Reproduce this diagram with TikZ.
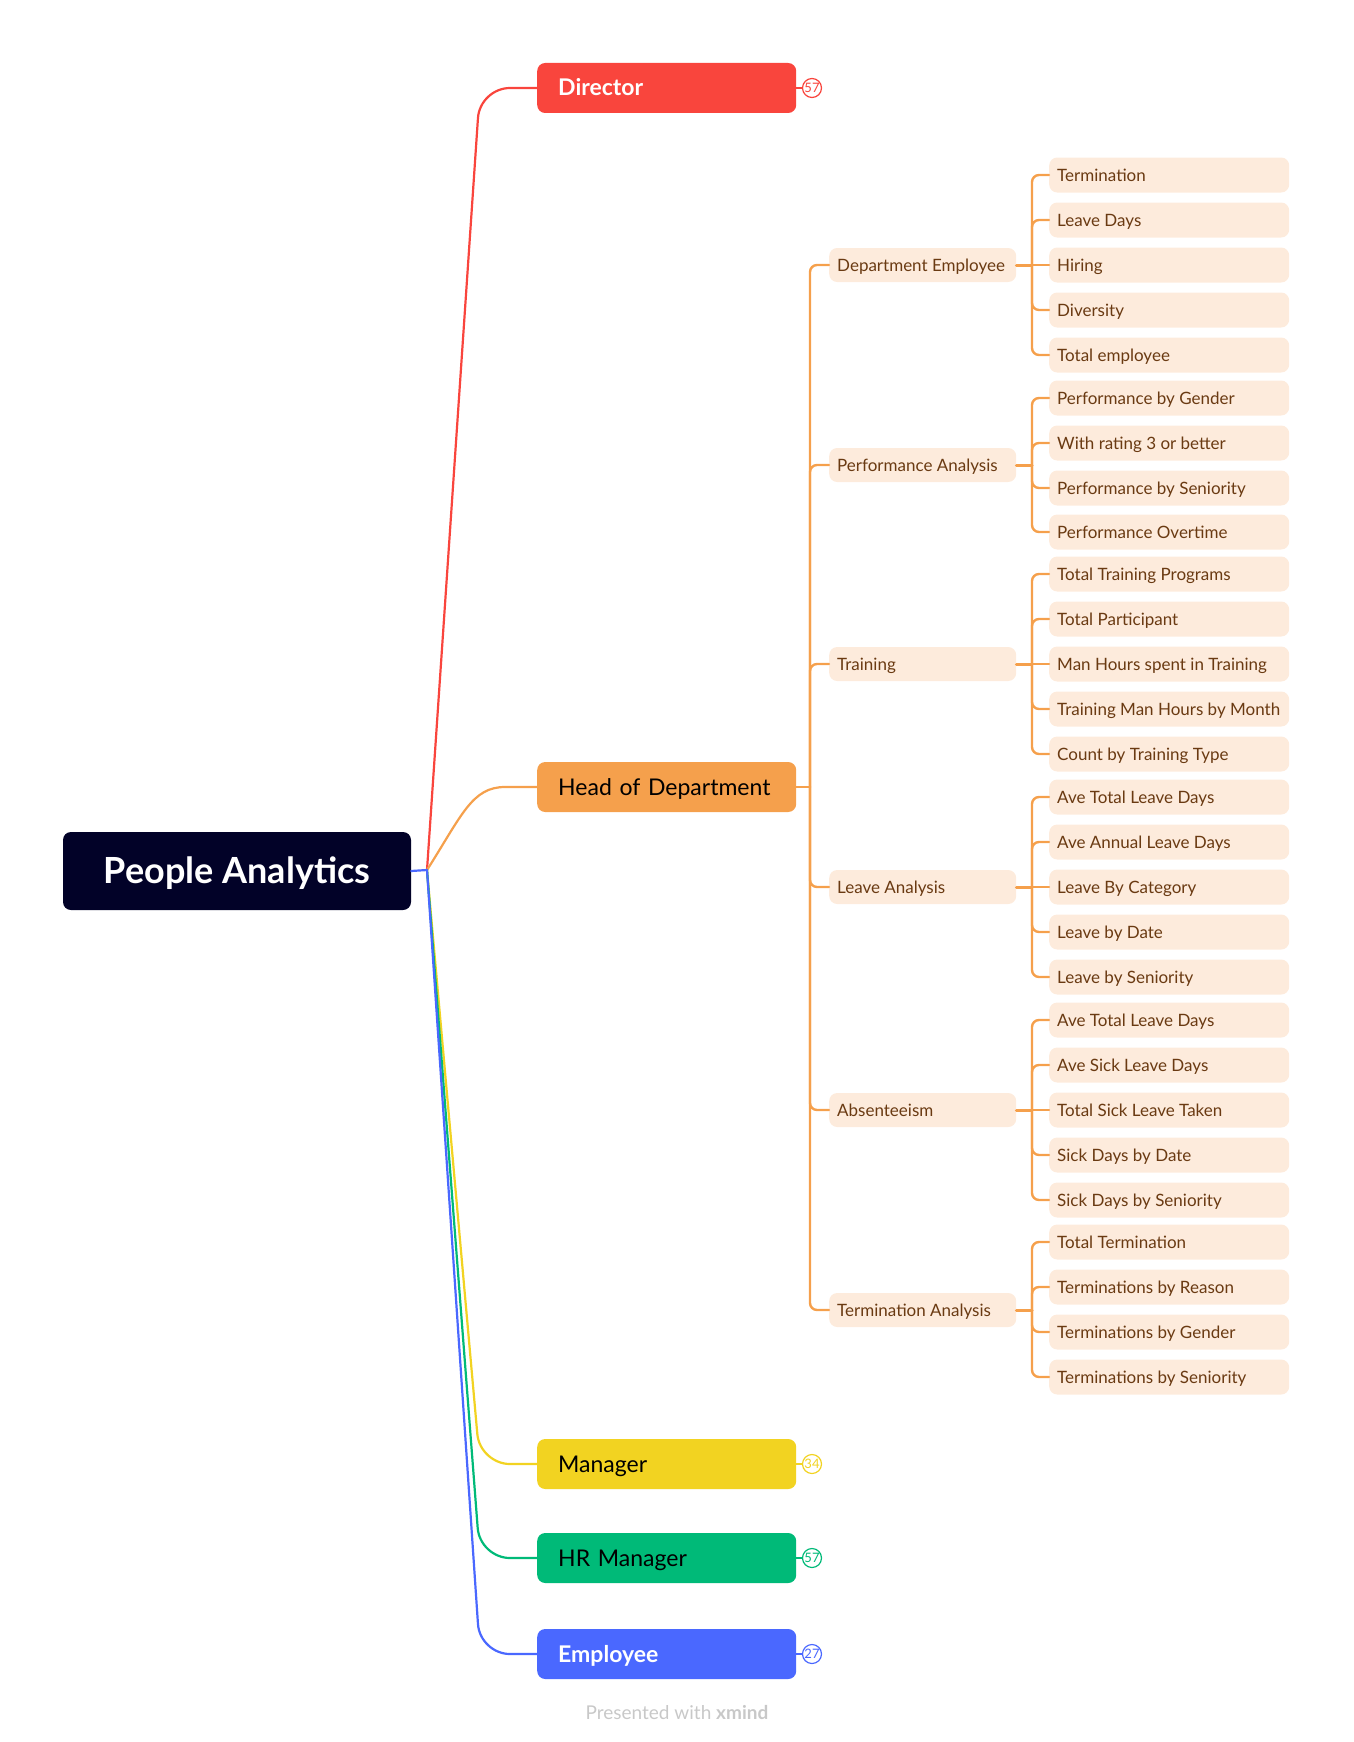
\documentclass[tikz,border=0pt]{standalone}
\usepackage{fontspec}
\setmainfont{Lato}
\definecolor{rootfill}{HTML}{020228}
\definecolor{cred}{HTML}{F9453D}
\definecolor{corange}{HTML}{F5A04C}
\definecolor{cyellow}{HTML}{F2D321}
\definecolor{cgreen}{HTML}{00BA78}
\definecolor{cblue}{HTML}{4A68FF}
\definecolor{leaffill}{HTML}{FDEBDC}
\definecolor{leaftext}{HTML}{6A3A12}
\definecolor{wmgray}{HTML}{C8C8C8}
\newcommand\mkleaf[5]{%
  \node[leafbox] (#1) at (1049,#2) {\makebox[224pt][l]{#3}};
  \ifnum#2=#5\relax
    \draw[oline] (#4.east -| bx) -- (#1.west);
  \else
    \draw[oline, rounded corners=7] (#4.east -| bx) -- (#1.west -| bx) -- (#1.west);
  \fi}
\newcommand\mkmid[3]{%
  \node[midbox] (#1) at (829,#2) {\makebox[171pt][l]{#3}};
  \draw[oline, rounded corners=7] (hod.east -| tx) -- (#1.west -| tx) -- (#1.west);
  \draw[oline, line width=3pt] (#1.east) -- (#1.east -| bx);}
\begin{document}
\begin{tikzpicture}[x=1pt,y=-1pt,
  rootbox/.style={fill=rootfill, rounded corners=8, minimum width=348, minimum height=78, text=white,
    font=\fontsize{36}{36}\selectfont\bfseries, inner sep=0, text height=27, text depth=2},
  topbox/.style={rounded corners=8, anchor=west, minimum height=50, inner xsep=21, inner ysep=0,
    text width=217, align=left, font=\fontsize{23}{23}\selectfont, text height=18, text depth=2},
  midbox/.style={fill=leaffill, rounded corners=8, anchor=west, minimum height=34, inner xsep=8, inner ysep=0,
    text=leaftext, font=\fontsize{17}{17}\selectfont, text height=13, text depth=1},
  leafbox/.style={fill=leaffill, rounded corners=8, anchor=west, minimum height=35, inner xsep=8, inner ysep=0,
    text=leaftext, font=\fontsize{17}{17}\selectfont, text height=13, text depth=1},
  badge/.style={circle, draw=#1, fill=white, line width=1.2pt, inner sep=0, minimum size=19, text=#1,
    font=\fontsize{13}{13}\selectfont},
  oline/.style={draw=corange, line width=2.4pt, line cap=round},
  rline/.style={line width=2.2pt, line cap=round}
]
\useasboundingbox (0,0) rectangle (1353,1742);
\coordinate (tx) at (810,0);
\coordinate (bx) at (1032,0);
\coordinate (rc) at (427,870);
\coordinate (cx) at (480,0);

% root
\node[rootbox] (root) at (237,871) {People Analytics};

% top level
\node[topbox, fill=cred, text=white] (dir) at (537,88) {\bfseries Director};
\node[topbox, fill=corange, text=black] (hod) at (537,787) {Head of Department};
\node[topbox, fill=cyellow, text=black] (man) at (537,1464) {Manager};
\node[topbox, fill=cgreen, text=black] (hrm) at (537,1558) {HR Manager};
\node[topbox, fill=cblue, text=white] (emp) at (537,1654) {\bfseries Employee};

% root connectors
\draw[rline, draw=cred, rounded corners=30] (rc) -- (dir.west -| cx) -- (dir.west);
\draw[rline, draw=corange] (rc) .. controls (462,815) and (472,787) .. (505,787) -- (hod.west);
\draw[rline, draw=cyellow, rounded corners=30] (rc) -- (man.west -| cx) -- (man.west);
\draw[rline, draw=cgreen, rounded corners=30] (rc) -- (hrm.west -| cx) -- (hrm.west);
\draw[rline, draw=cblue, rounded corners=30] (rc) -- (emp.west -| cx) -- (emp.west);
\draw[rline, draw=cblue] (root.east) -- (rc);

% badges
\node[badge=cred] (dirb) at (812,88) {57};
\draw[rline, draw=cred, line width=1.5pt] (dir.east) -- (dirb.west);
\node[badge=cyellow] (manb) at (812,1464) {34};
\draw[rline, draw=cyellow, line width=1.5pt] (man.east) -- (manb.west);
\node[badge=cgreen] (hrmb) at (812,1558) {57};
\draw[rline, draw=cgreen, line width=1.5pt] (hrm.east) -- (hrmb.west);
\node[badge=cblue] (empb) at (812,1654) {27};
\draw[rline, draw=cblue, line width=1.5pt] (emp.east) -- (empb.west);

% head of department trunk
\draw[oline] (hod.east) -- (hod.east -| tx);
\mkmid{de}{265}{Department Employee}
\mkmid{pa}{465}{Performance Analysis}
\mkmid{tr}{664}{Training}
\mkmid{la}{887}{Leave Analysis}
\mkmid{ab}{1110}{Absenteeism}
\mkmid{ta}{1310}{Termination Analysis}

% leaves
\mkleaf{de1}{175}{Termination}{de}{265}
\mkleaf{de2}{220}{Leave Days}{de}{265}
\mkleaf{de3}{265}{Hiring}{de}{265}
\mkleaf{de4}{310}{Diversity}{de}{265}
\mkleaf{de5}{355}{Total employee}{de}{265}

\mkleaf{pa1}{398}{Performance by Gender}{pa}{465}
\mkleaf{pa2}{443}{With rating 3 or better}{pa}{465}
\mkleaf{pa3}{488}{Performance by Seniority}{pa}{465}
\mkleaf{pa4}{532}{Performance Overtime}{pa}{465}

\mkleaf{tr1}{574}{Total Training Programs}{tr}{664}
\mkleaf{tr2}{619}{Total Participant}{tr}{664}
\mkleaf{tr3}{664}{Man Hours spent in Training}{tr}{664}
\mkleaf{tr4}{709}{Training Man Hours by Month}{tr}{664}
\mkleaf{tr5}{754}{Count by Training Type}{tr}{664}

\mkleaf{la1}{797}{Ave Total Leave Days}{la}{887}
\mkleaf{la2}{842}{Ave Annual Leave Days}{la}{887}
\mkleaf{la3}{887}{Leave By Category}{la}{887}
\mkleaf{la4}{932}{Leave by Date}{la}{887}
\mkleaf{la5}{977}{Leave by Seniority}{la}{887}

\mkleaf{ab1}{1020}{Ave Total Leave Days}{ab}{1110}
\mkleaf{ab2}{1065}{Ave Sick Leave Days}{ab}{1110}
\mkleaf{ab3}{1110}{Total Sick Leave Taken}{ab}{1110}
\mkleaf{ab4}{1155}{Sick Days by Date}{ab}{1110}
\mkleaf{ab5}{1200}{Sick Days by Seniority}{ab}{1110}

\mkleaf{ta1}{1242}{Total Termination}{ta}{1310}
\mkleaf{ta2}{1287}{Terminations by Reason}{ta}{1310}
\mkleaf{ta3}{1332}{Terminations by Gender}{ta}{1310}
\mkleaf{ta4}{1377}{Terminations by Seniority}{ta}{1310}

% watermark
\node[text=wmgray, font=\fontsize{19}{19}\selectfont] (wm) at (677,1712) {Presented with \textbf{xmind}};
\end{tikzpicture}
\end{document}
